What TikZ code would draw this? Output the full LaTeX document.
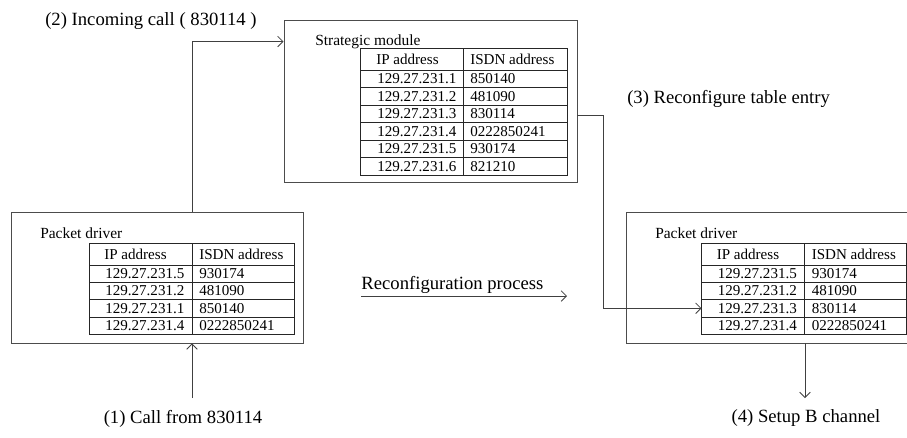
\documentclass[tikz,border=0pt]{standalone}
\usepackage{fontspec}
\setmainfont{Liberation Serif}
\usetikzlibrary{calc,fit,arrows.meta}

\tikzset{
  box/.style={draw=black!70, line width=0.7pt, inner sep=0pt},
  tab/.style={draw=black!85, line width=0.6pt},
  cell/.style={anchor=west, inner sep=0pt, font=\fontsize{11.3}{13}\selectfont},
  title/.style={anchor=base west, inner sep=0pt, font=\fontsize{11.6}{14}\selectfont},
  steplabel/.style={inner sep=0pt, font=\fontsize{14}{16}\selectfont},
  arr/.style={draw=black!75, line width=0.6pt, -{Straight Barb[length=4pt,width=8pt]}}
}

\begin{document}
\begin{tikzpicture}[x=0.75pt, y=-0.75pt]
    \useasboundingbox (0,0) rectangle (907,437);
    \clip (0,0) rectangle (907,437);

        % === Packet driver (left) ===
        \node[box, fit={(11,212) (303,343)}] (pdL) {};
        \node[title] (pdLtitle) at (40,238) {Packet driver};
        \begin{scope}[shift={(89,243)}]
          \draw[tab] (0,0) rectangle (205,91.2);
          \draw[tab] (103,0) -- (103,91.2);
          \draw[tab] (0,22) -- (205,22);
          \node[cell] (pdL-h1) at (15,11) {IP address};
          \node[cell] (pdL-h2) at (110,11) {ISDN address};
          \foreach \ip/\isdn [count=\i] in {129.27.231.5/930174, 129.27.231.2/481090,
                                            129.27.231.1/850140, 129.27.231.4/0222850241} {
            \draw[tab] (0,{22+\i*17.3}) -- (205,{22+\i*17.3});
            \coordinate (pdL-\i) at (0,{22+(\i-0.5)*17.3});
            \node[cell] (pdL-ip\i) at (16,{22+(\i-0.5)*17.3}) {\ip};
            \node[cell] (pdL-isdn\i) at (110,{22+(\i-0.5)*17.3}) {\isdn};
          }
        \end{scope}

        % === Strategic module (top) ===
        \node[box, fit={(284,20) (577,182)}] (sm) {};
        \node[title] (smtitle) at (315,45) {Strategic module};
        \begin{scope}[shift={(360,48)}]
          \draw[tab] (0,0) rectangle (207,127);
          \draw[tab] (103,0) -- (103,127);
          \draw[tab] (0,22) -- (207,22);
          \node[cell] (sm-h1) at (16,11) {IP address};
          \node[cell] (sm-h2) at (110,11) {ISDN address};
          \foreach \ip/\isdn [count=\i] in {129.27.231.1/850140, 129.27.231.2/481090,
                                            129.27.231.3/830114, 129.27.231.4/0222850241,
                                            129.27.231.5/930174, 129.27.231.6/821210} {
            \draw[tab] (0,{22+\i*17.5}) -- (207,{22+\i*17.5});
            \node[cell] (sm-ip\i) at (17,{22+(\i-0.5)*17.5}) {\ip};
            \node[cell] (sm-isdn\i) at (110,{22+(\i-0.5)*17.5}) {\isdn};
          }
        \end{scope}

        % === Packet driver (right) ===
        \node[box, fit={(626,212) (920,343)}] (pdR) {};
        \node[title] (pdRtitle) at (655,238) {Packet driver};
        \begin{scope}[shift={(701.5,243)}]
          \draw[tab] (0,0) rectangle (205,91.2);
          \draw[tab] (103,0) -- (103,91.2);
          \draw[tab] (0,22) -- (205,22);
          \node[cell] (pdR-h1) at (15,11) {IP address};
          \node[cell] (pdR-h2) at (110,11) {ISDN address};
          \foreach \ip/\isdn [count=\i] in {129.27.231.5/930174, 129.27.231.2/481090,
                                            129.27.231.3/830114, 129.27.231.4/0222850241} {
            \draw[tab] (0,{22+\i*17.3}) -- (205,{22+\i*17.3});
            \coordinate (pdR-\i) at (0,{22+(\i-0.5)*17.3});
            \node[cell] (pdR-ip\i) at (16,{22+(\i-0.5)*17.3}) {\ip};
            \node[cell] (pdR-isdn\i) at (110,{22+(\i-0.5)*17.3}) {\isdn};
          }
        \end{scope}

        % === Steps ===
        \coordinate (call) at (192,398);
        \coordinate (bend3) at (603,115);
        \coordinate (setup) at (805,398);
        \coordinate (rpStart) at (361,296);
        \coordinate (rpEnd) at (567,296);

        \node[steplabel, anchor=base] (lbl1) at (183,423) {(1) Call from 830114};
        \node[steplabel, anchor=base west] (lbl2) at (45,25) {(2) Incoming call ( 830114 )};
        \node[steplabel, anchor=base west] (lbl3) at (627,103) {(3) Reconfigure table entry};
        \node[steplabel, anchor=base] (lbl4) at (806,422) {(4) Setup B channel};

        \draw[arr] (call) -- (call |- pdL.south);
        \draw[arr] (call |- pdL.north) |- ($(sm.north west)+(0,22)$);
        \draw[arr] (sm.east |- bend3) -- (bend3) |- (pdR-3);
        \draw[arr] (setup |- pdR.south) -- (setup);

        % underlined process arrow
        \draw[arr] (rpStart) -- node[pos=0, steplabel, anchor=south west, yshift=1.5pt] (rp) {Reconfiguration process} (rpEnd);

\end{tikzpicture}
\end{document}
